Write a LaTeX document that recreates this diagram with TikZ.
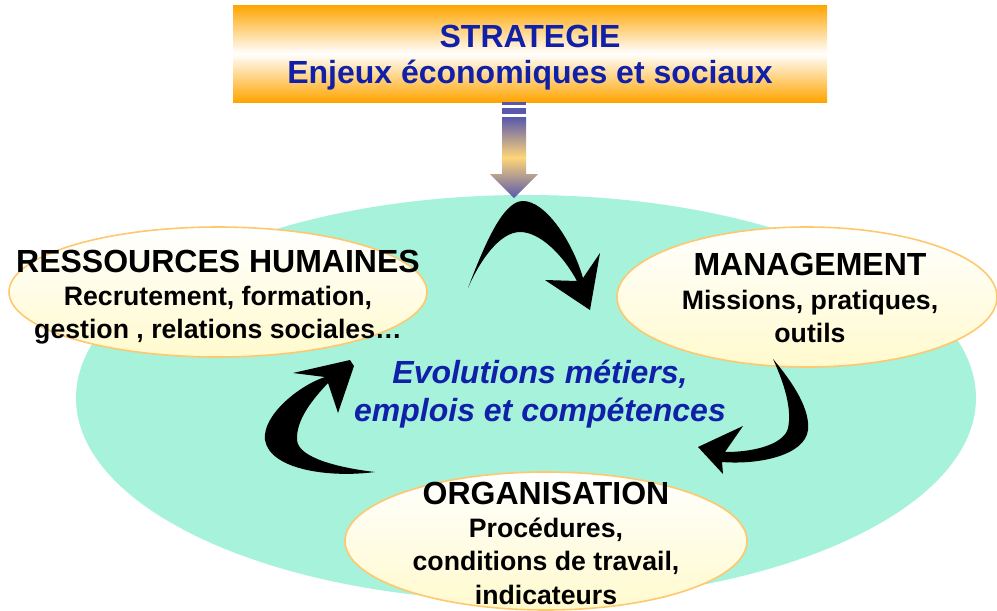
\documentclass[tikz,border=0pt]{standalone}
\usepackage{fontspec}
\setmainfont{Liberation Sans}
\usepackage{xcolor}
\usepackage{tikz}
\usetikzlibrary{shapes.geometric}

\definecolor{stratorange}{RGB}{255,165,0}
\definecolor{pipeblue}{RGB}{88,88,172}
\definecolor{pipegold}{RGB}{255,214,120}
\definecolor{bubblecream}{RGB}{255,250,205}
\definecolor{bubbleedge}{RGB}{255,200,110}
\definecolor{lagoon}{RGB}{166,242,218}
\definecolor{inkblue}{RGB}{16,32,168}

\begin{document}
\begin{tikzpicture}[x=0.75pt,y=0.75pt,yscale=-1,xscale=1,
  bubble/.style={ellipse, draw=bubbleedge, line width=1.2pt, top color=white, bottom color=bubblecream, inner sep=0pt},
  bubbletext/.style={align=center, inner sep=0pt, font=\bfseries\fontsize{20}{25}\selectfont},
  swirl/.style={fill=black}]
\useasboundingbox (0,0) rectangle (997,611);

%Shape: Ellipse (background)
\fill [lagoon] (526,398) ellipse [x radius=450, y radius=203];

%Shape: Rectangle (strategy)
\node [rectangle, top color=stratorange, bottom color=stratorange, middle color=white, minimum width=445.5pt, minimum height=72.75pt, inner sep=0pt] (strat) at (530,53.5) {};
\node [text=inkblue, align=center, inner sep=0pt, font=\bfseries\fontsize{24}{27}\selectfont] (strattext) at (530,58) {STRATEGIE\\Enjeux économiques et sociaux};

%Shape: Down Arrow
\fill [pipeblue] (502,102) rectangle (526,105);
\fill [pipeblue] (502,108) rectangle (526,114);
\shade [top color=pipeblue, bottom color=pipeblue, middle color=pipegold] (502,117) -- (526,117) -- (526,174) -- (538,174) -- (514,198) -- (490,174) -- (502,174) -- cycle;

%Shape: Ellipse (RH)
\node [bubble, minimum width=313.5pt, minimum height=97.5pt] (rh) at (218,292) {};
\node [bubbletext] (rhtext) at (218,297) {{\fontsize{24}{26}\selectfont RESSOURCES HUMAINES}\\Recrutement, formation,\\gestion , relations sociales…};

%Shape: Ellipse (management)
\node [bubble, minimum width=285pt, minimum height=105pt] (mgt) at (807,297) {};
\node [bubbletext] (mgttext) at (810,298) {{\fontsize{24}{26}\selectfont MANAGEMENT}\\Missions, pratiques,\\outils};

%Shape: Ellipse (organisation)
\node [bubble, minimum width=301.5pt, minimum height=103.5pt] (org) at (546,541) {};
\node [bubbletext] (orgtext) at (546,543) {{\fontsize{24}{27}\selectfont ORGANISATION}\\Procédures,\\conditions de travail,\\indicateurs};

%Text (centre)
\node [align=center, inner sep=0pt, text=inkblue, font=\bfseries\itshape\fontsize{24}{28.5}\selectfont] (evol) at (540,394) {Evolutions métiers,\\emplois et compétences};

%Curve Lines (top arrow)
\fill [swirl] (468,288) .. controls (488,235) and (505,201) .. (523,201) .. controls (545,201) and (572,240) .. (583,278) -- (600,253) -- (590,310) -- (545,280) -- (577,281) .. controls (563,255) and (540,232) .. (520,232) .. controls (500,232) and (480,260) .. (468,288) -- cycle;
%Curve Lines (right arrow)
\fill [swirl] (773,359) .. controls (795,385) and (810,410) .. (808,430) .. controls (805,455) and (760,465) .. (722,462) -- (723,474) -- (698,447) -- (743,426) -- (725,452) .. controls (760,452) and (785,442) .. (788,428) .. controls (792,410) and (785,385) .. (773,359) -- cycle;
%Curve Lines (left arrow)
\fill [swirl] (375,472) .. controls (330,478) and (270,470) .. (265,440) .. controls (262,415) and (300,385) .. (325,377) -- (293,373) -- (350,360) -- (354,366) -- (338,413) -- (328,383) .. controls (312,400) and (296,420) .. (297,440) .. controls (298,458) and (340,468) .. (375,472) -- cycle;
\end{tikzpicture}
\end{document}
